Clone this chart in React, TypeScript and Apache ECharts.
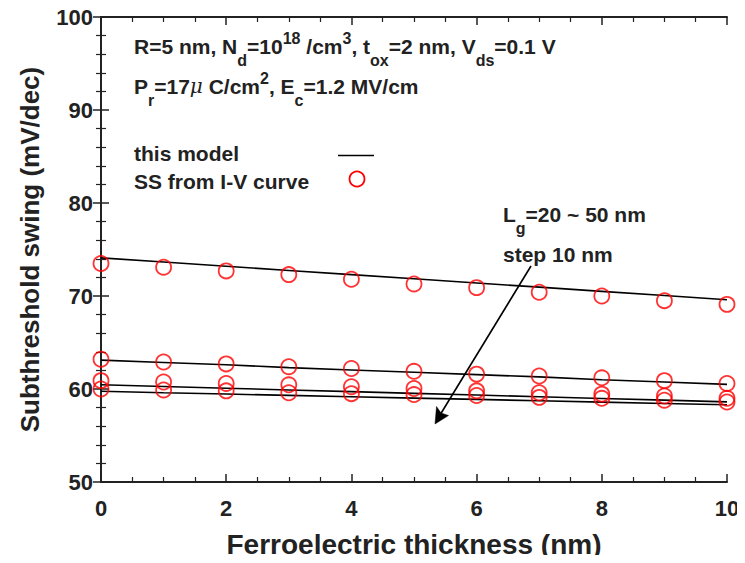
import React, { useEffect, useRef } from "react";
import * as echarts from "echarts";

const thickness = [0, 1, 2, 3, 4, 5, 6, 7, 8, 9, 10];

// SS from I-V curve (circles), Lg = 20, 30, 40, 50 nm
const ssLg20 = [73.5, 73.1, 72.7, 72.3, 71.8, 71.3, 70.9, 70.4, 70.0, 69.5, 69.1];
const ssLg30 = [63.2, 62.9, 62.7, 62.4, 62.2, 61.9, 61.6, 61.4, 61.2, 60.9, 60.6];
const ssLg40 = [60.9, 60.75, 60.6, 60.45, 60.25, 60.05, 59.8, 59.6, 59.45, 59.25, 59.0];
const ssLg50 = [60.0, 59.9, 59.8, 59.6, 59.5, 59.4, 59.3, 59.1, 59.0, 58.8, 58.6];

// this model (lines)
const modelLg20 = [74.1, 73.65, 73.2, 72.75, 72.3, 71.85, 71.4, 70.95, 70.5, 70.05, 69.6];
const modelLg30 = [63.1, 62.85, 62.6, 62.3, 62.05, 61.8, 61.55, 61.3, 61.0, 60.75, 60.5];
const modelLg40 = [60.45, 60.27, 60.08, 59.9, 59.72, 59.53, 59.35, 59.17, 58.98, 58.8, 58.62];
const modelLg50 = [59.75, 59.6, 59.46, 59.31, 59.17, 59.02, 58.88, 58.73, 58.59, 58.44, 58.3];

const xTicks = { min: 0, max: 10, interval: 2 };
const yTicks = { min: 50, max: 100, interval: 10 };

const FONT = "'Liberation Sans', Arial, Helvetica, sans-serif";
const INK = "#222";

export default function App() {
  const ref = useRef<HTMLDivElement>(null);
  useEffect(() => {
    const chart = echarts.init(ref.current!, null, { renderer: "svg" });
    const pair = (ys: number[]) => thickness.map((x, i) => [x, ys[i]]);
    const lineSeries = (ys: number[]) => ({
      type: "line",
      data: pair(ys),
      showSymbol: false,
      symbol: "none",
      lineStyle: { color: "#000", width: 1.6 },
      z: 3,
    });
    const scatterSeries = (ys: number[]) => ({
      type: "scatter",
      data: pair(ys),
      symbol: "circle",
      symbolSize: 15,
      itemStyle: { color: "rgba(0,0,0,0)", borderColor: "#f00", borderWidth: 1.8 },
      z: 4,
    });
    const axisLine = { show: true, lineStyle: { color: INK, width: 2 } };
    const baseX = {
      type: "value",
      min: xTicks.min,
      max: xTicks.max,
      interval: xTicks.interval,
      axisLine,
      axisTick: { show: true, inside: true, length: 8, lineStyle: { color: INK, width: 1.5 } },
      minorTick: { show: true, splitNumber: 4, length: 5, lineStyle: { color: INK, width: 1.2 } },
      splitLine: { show: false },
      minorSplitLine: { show: false },
    };
    const baseY = {
      type: "value",
      min: yTicks.min,
      max: yTicks.max,
      interval: yTicks.interval,
      axisLine,
      axisTick: { show: true, inside: true, length: 8, lineStyle: { color: INK, width: 1.5 } },
      minorTick: { show: true, splitNumber: 5, length: 5, lineStyle: { color: INK, width: 1.2 } },
      splitLine: { show: false },
      minorSplitLine: { show: false },
    };
    const textFont = { fontFamily: FONT, fontWeight: "bold" as const, fill: INK };
    const rich = {
      n: { fontSize: 21, fontWeight: "bold", fontFamily: FONT, color: INK, lineHeight: 28 },
      sub: {
        fontSize: 16, fontWeight: "bold", fontFamily: FONT, color: INK,
        verticalAlign: "bottom", lineHeight: 16, padding: [0, 0, -8, 0],
      },
      sup: {
        fontSize: 16, fontWeight: "bold", fontFamily: FONT, color: INK,
        verticalAlign: "top", lineHeight: 16, padding: [-2, 0, 0, 0],
      },
      mu: { fontSize: 20, fontStyle: "italic", fontFamily: "'DejaVu Serif', serif", color: INK, lineHeight: 28 },
    };
    const richText = (x: number, y: number, text: string) => ({
      type: "text",
      x,
      y,
      style: {
        text,
        rich,
        verticalAlign: "middle",
        align: "left",
        ...textFont,
        fontSize: 21,
      },
      z: 10,
    });
    chart.setOption({
      animation: false,
      grid: { left: 101, right: 18, top: 17, bottom: 80, containLabel: false },
      xAxis: [
        {
          ...baseX,
          position: "bottom",
          name: "Ferroelectric thickness (nm)",
          nameLocation: "middle",
          nameGap: 48,
          nameTextStyle: { fontFamily: FONT, fontWeight: "bold", fontSize: 28, color: INK },
          axisLabel: { fontFamily: FONT, fontWeight: "bold", fontSize: 22, color: INK, margin: 15 },
        },
        { ...baseX, position: "top", axisLabel: { show: false } },
      ],
      yAxis: [
        {
          ...baseY,
          position: "left",
          name: "Subthreshold swing (mV/dec)",
          nameLocation: "middle",
          nameGap: 58,
          nameTextStyle: { fontFamily: FONT, fontWeight: "bold", fontSize: 26, color: INK },
          axisLabel: { fontFamily: FONT, fontWeight: "bold", fontSize: 22, color: INK, margin: 8 },
        },
        { ...baseY, position: "right", axisLabel: { show: false } },
      ],
      series: [
        lineSeries(modelLg20),
        lineSeries(modelLg30),
        lineSeries(modelLg40),
        lineSeries(modelLg50),
        scatterSeries(ssLg20),
        scatterSeries(ssLg30),
        scatterSeries(ssLg40),
        scatterSeries(ssLg50),
      ],
      graphic: [
        richText(134, 46, "{n|R=5 nm, N}{sub|d}{n|=10}{sup|18}{n| /cm}{sup|3}{n|, t}{sub|ox}{n|=2 nm, V}{sub|ds}{n|=0.1 V}"),
        richText(134, 86, "{n|P}{sub|r}{n|=17}{mu|μ}{n| C/cm}{sup|2}{n|, E}{sub|c}{n|=1.2 MV/cm}"),
        richText(134, 153, "{n|this model}"),
        richText(134, 181, "{n|SS from I-V curve}"),
        richText(503, 214, "{n|L}{sub|g}{n|=20 ~ 50 nm}"),
        richText(503, 254, "{n|step 10 nm}"),
        {
          type: "line",
          shape: { x1: 338, y1: 155.5, x2: 374, y2: 155.5 },
          style: { stroke: "#000", lineWidth: 1.6 },
          z: 10,
        },
        {
          type: "circle",
          shape: { cx: 357, cy: 179, r: 7.5 },
          style: { fill: "none", stroke: "#f00", lineWidth: 1.8 },
          z: 10,
        },
        {
          type: "line",
          shape: { x1: 531, y1: 266, x2: 440, y2: 415 },
          style: { stroke: "#000", lineWidth: 1.6 },
          z: 10,
        },
        {
          type: "polygon",
          shape: { points: [[435, 424], [436.5, 406.5], [441, 413], [448.5, 415.5]] },
          style: { fill: "#000", stroke: "#000", lineWidth: 0.5 },
          z: 10,
        },
      ],
    });
    return () => chart.dispose();
  }, []);
  return <div ref={ref} style={{ width: 745, height: 563, margin: -8 }} />;
}
